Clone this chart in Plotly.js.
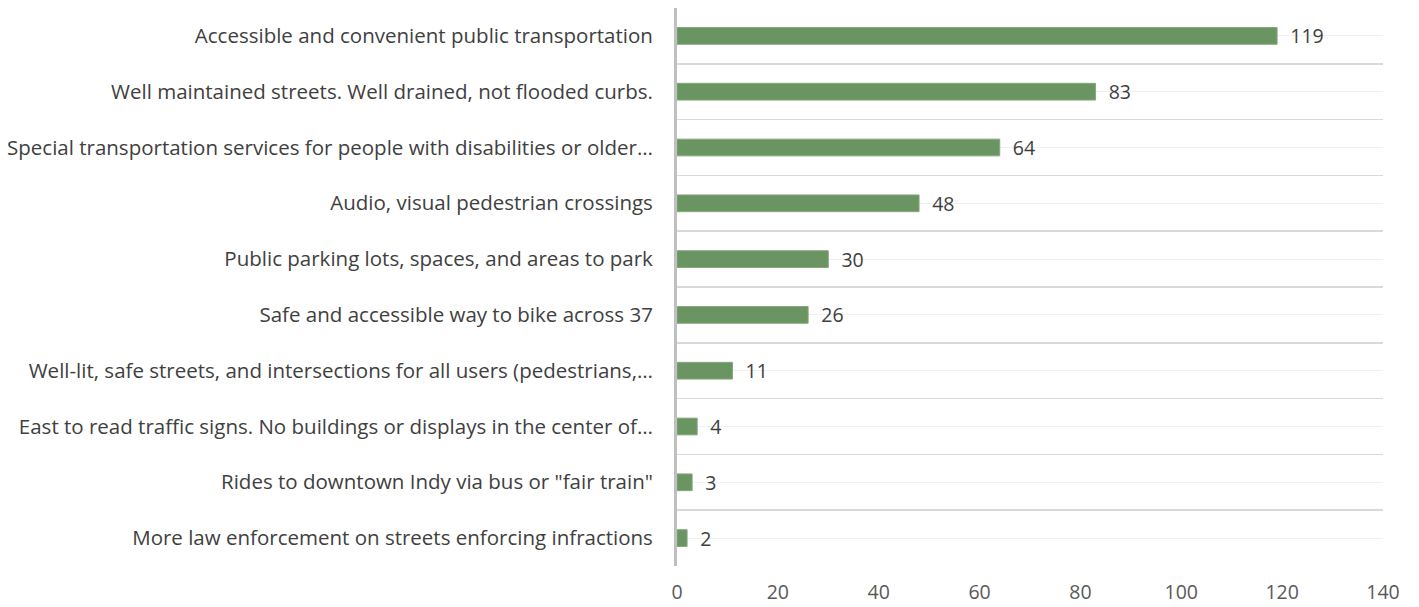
<!DOCTYPE html>
<html>
<head>
<meta charset="utf-8">
<script src="https://cdn.plot.ly/plotly-3.0.1.min.js"></script>
<style>html,body{margin:0;padding:0;background:#fff;}#chart{width:1419px;height:607px;}</style>
</head>
<body>
<div id="chart"></div>
<script>
const categories = [
  "Accessible and convenient public transportation",
  "Well maintained streets. Well drained, not flooded curbs.",
  "Special transportation services for people with disabilities or older…",
  "Audio, visual pedestrian crossings",
  "Public parking lots, spaces, and areas to park",
  "Safe and accessible way to bike across 37",
  "Well-lit, safe streets, and intersections for all users (pedestrians,…",
  "East to read traffic signs. No buildings or displays in the center of…",
  "Rides to downtown Indy via bus or \"fair train\"",
  "More law enforcement on streets enforcing infractions"
];
const values = [119, 83, 64, 48, 30, 26, 11, 4, 3, 2];
const xTicks = [0, 20, 40, 60, 80, 100, 120, 140];

const idx = categories.map((_, i) => i);
const bounds = [];
for (let i = 0; i <= categories.length; i++) bounds.push(i - 0.5);

const FONT = "Open Sans, sans-serif";

const trace = {
  type: "bar",
  orientation: "h",
  x: values,
  y: idx,
  width: 0.3,
  marker: {color: "#6a9461", line: {color: "#86a87d", width: 1}},
  texttemplate: "\u00a0\u00a0%{x}",
  textposition: "outside",
  constraintext: "none",
  cliponaxis: false,
  textfont: {family: FONT, size: 19.5, color: "#404040"},
  hoverinfo: "none"
};

const layout = {
  width: 1419, height: 607,
  margin: {l: 677, r: 36, t: 8, b: 41},
  paper_bgcolor: "#fff", plot_bgcolor: "#fff",
  showlegend: false,
  xaxis: {
    range: [0, 140],
    tickvals: xTicks,
    ticktext: xTicks.map(String),
    showgrid: false,
    zeroline: false,
    showline: false,
    ticks: "",
    ticklabelstandoff: 12,
    tickfont: {family: FONT, size: 19.5, color: "#595959"},
    fixedrange: true
  },
  yaxis: {
    range: [categories.length - 0.5, -0.5],
    tickmode: "array",
    tickvals: idx,
    ticktext: categories,
    showgrid: true,
    gridcolor: "#f0f0f0",
    gridwidth: 1,
    zeroline: false,
    showline: true,
    linecolor: "#bfbfbf",
    linewidth: 3,
    ticks: "",
    ticklabelstandoff: 17,
    tickfont: {family: FONT, size: 20.5, color: "#404040"},
    minor: {
      tickmode: "array",
      tickvals: bounds,
      showgrid: true,
      gridcolor: "#d9d9d9",
      gridwidth: 1.5,
      ticks: ""
    },
    fixedrange: true
  }
};

Plotly.newPlot("chart", [trace], layout, {displayModeBar: false, staticPlot: true});
</script>
</body>
</html>
